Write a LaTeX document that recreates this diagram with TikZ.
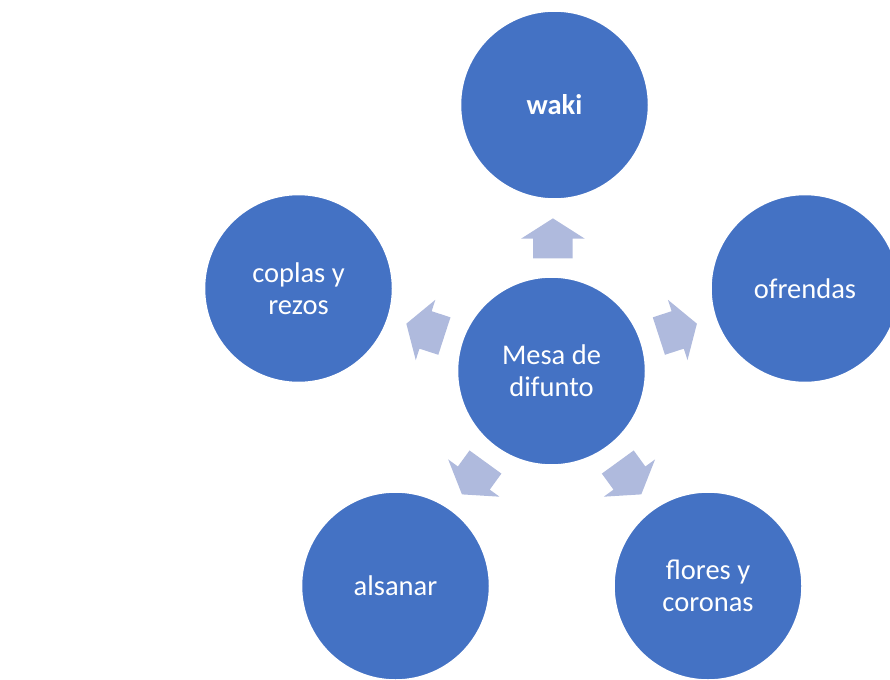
\documentclass[tikz,border=0pt]{standalone}
\usepackage{fontspec}
\setmainfont{Carlito}
\usetikzlibrary{shapes.arrows,calc}

\definecolor{circblue}{HTML}{4472C4}
\definecolor{arrowblue}{HTML}{AFBADD}

\tikzset{
    bubble/.style={circle,fill=circblue,draw=white,line width=1.5pt,minimum size=188pt,inner sep=0pt,
        text=white,align=center,font=\fontsize{28.5}{32}\selectfont},
    blockarrow/.style={single arrow,fill=arrowblue,draw=none,inner xsep=0pt,inner ysep=19.5pt,
        minimum height=40pt,single arrow head extend=12pt,single arrow tip angle=115}
}

\begin{document}
\begin{tikzpicture}
    \useasboundingbox (0,0) rectangle (890pt,-679pt);

    \node[bubble] (mesa) at (551.5pt,-371pt) {Mesa de\\difunto};
    \node[bubble] (waki) at (554.5pt,-105pt) {\textbf{waki}};
    \node[bubble] (ofrendas) at (805pt,-288.5pt) {ofrendas};
    \node[bubble] (flores) at (708pt,-586pt) {flores y\\coronas};
    \node[bubble] (alsanar) at (395.5pt,-586pt) {alsanar};
    \node[bubble] (coplas) at (298.5pt,-288.5pt) {coplas y\\rezos};

    % Arrows
    \node[blockarrow,rotate=90] (a1) at ($(mesa)!0.475!(waki)$) {};
    \node[blockarrow,rotate=18] (a2) at ($(mesa)!0.475!(ofrendas)$) {};
    \node[blockarrow,rotate=-54] (a3) at ($(mesa)!0.475!(flores)$) {};
    \node[blockarrow,rotate=-126] (a4) at ($(mesa)!0.475!(alsanar)$) {};
    \node[blockarrow,rotate=162] (a5) at ($(mesa)!0.475!(coplas)$) {};
\end{tikzpicture}
\end{document}
